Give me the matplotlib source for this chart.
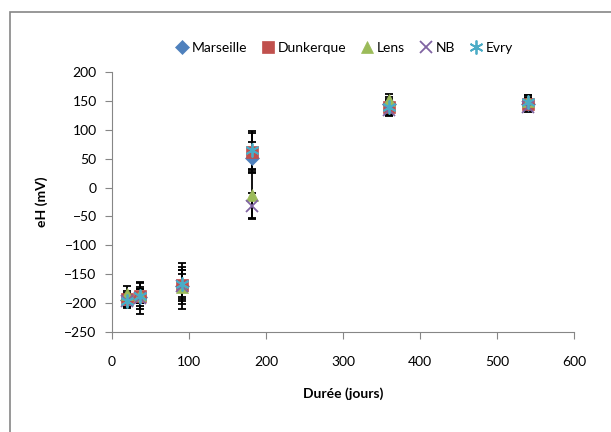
import matplotlib.pyplot as plt
from matplotlib.patches import Rectangle

# Durée (jours) et eH (mV) par site
duree = [19, 36, 91, 182, 360, 540]

marseille = [-194, -190, -170, 52, 145, 145]
dunkerque = [-193, -188, -168, 62, 140, 145]
lens = [-185, -186, -172, -13, 152, 150]
nb = [-196, -192, -170, -32, 135, 140]
evry = [-196, -187, -167, 65, 140, 148]

err_marseille = [12, 15, 20, 26, 12, 10]
err_dunkerque = [14, 12, 25, 32, 14, 12]
err_lens = [15, 14, 30, 40, 10, 10]
err_nb = [10, 26, 40, 22, 12, 10]
err_evry = [12, 24, 30, 33, 12, 12]

noms = ['Marseille', 'Dunkerque', 'Lens', 'NB', 'Evry']
series = [marseille, dunkerque, lens, nb, evry]
erreurs = [err_marseille, err_dunkerque, err_lens, err_nb, err_evry]
couleurs = ['#4F81BD', '#C0504D', '#9BBB59', '#8064A2', '#4BACC6']
marqueurs = ['D', 's', '^', 'x', (6, 2, 0)]
tailles = [7, 9, 8, 9, 10]

plt.rcParams['font.family'] = ['Lato', 'DejaVu Sans']

fig = plt.figure(figsize=(6.11, 4.32), dpi=100)
ax = fig.add_axes([0.1833, 0.2315, 0.7561, 0.6018])

# cadre du graphique (style Excel)
fig.patches.append(Rectangle((10 / 611, -0.05), 1.1, 1 - 12 / 432 + 0.05,
                             transform=fig.transFigure, fill=False,
                             edgecolor='#868686', linewidth=1.2, clip_on=False))

for nom, y, e, c, m, t in zip(noms, series, erreurs, couleurs, marqueurs, tailles):
    ax.errorbar(duree, y, yerr=e, fmt='none', ecolor='black', elinewidth=1.3,
                capsize=3, capthick=1.3, zorder=2)
for nom, y, e, c, m, t in zip(noms, series, erreurs, couleurs, marqueurs, tailles):
    ax.plot(duree, y, linestyle='none', marker=m, color=c, markersize=t,
            markeredgewidth=1.3 if m in ('x', (6, 2, 0)) else 0.5,
            label=nom, zorder=3)

ax.set_xlim(0, 600)
ax.set_ylim(-250, 200)
ax.set_xticks(range(0, 601, 100))
ax.set_yticks(range(-250, 201, 50))

for s in ['top', 'right']:
    ax.spines[s].set_visible(False)
for s in ['left', 'bottom']:
    ax.spines[s].set_color('#868686')
ax.tick_params(direction='out', length=5, color='#868686', labelsize=10, pad=6)
ax.tick_params(axis='x', pad=12)

ax.set_xlabel('Durée (jours)', fontsize=10, fontweight='bold', labelpad=14)
ax.set_ylabel('eH (mV)', fontsize=10, fontweight='bold', labelpad=12)

ax.legend(loc='lower center', bbox_to_anchor=(0.5, 1.02), ncol=5, frameon=False,
          fontsize=10, handletextpad=0.1, columnspacing=0.9, handlelength=1.2,
          borderaxespad=0.5)

fig.savefig('out.png', dpi=100)
